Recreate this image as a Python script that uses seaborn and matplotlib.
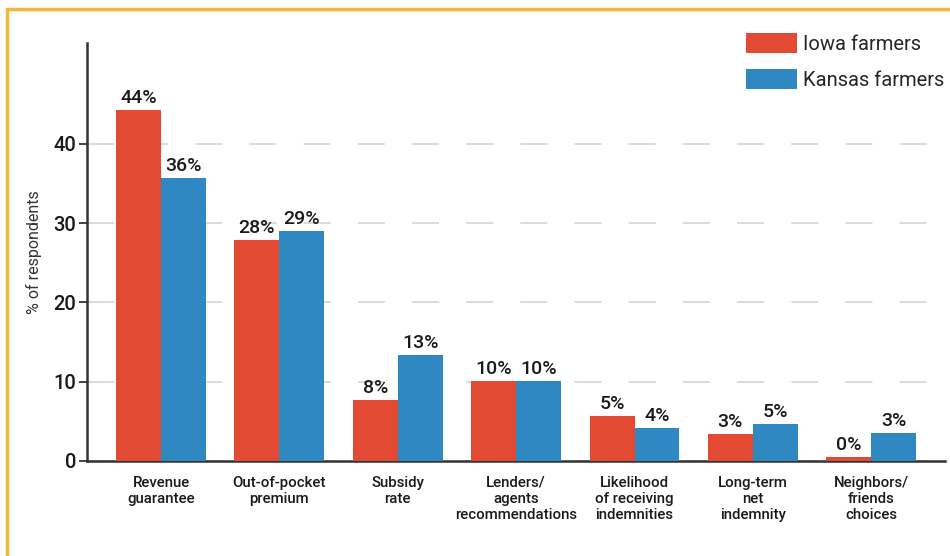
import pandas as pd
import matplotlib.pyplot as plt
import seaborn as sns
from matplotlib.lines import Line2D

# Data
factors = ["Revenue\nguarantee", "Out-of-pocket\npremium", "Subsidy\nrate",
           "Lenders/\nagents\nrecommendations", "Likelihood\nof receiving\nindemnities",
           "Long-term\nnet\nindemnity", "Neighbors/\nfriends\nchoices"]
iowa = [44.3, 27.9, 7.7, 10.1, 5.7, 3.4, 0.5]
kansas = [35.7, 29.0, 13.4, 10.1, 4.2, 4.7, 3.5]
iowa_labels = ["44%", "28%", "8%", "10%", "5%", "3%", "0%"]
kansas_labels = ["36%", "29%", "13%", "10%", "4%", "5%", "3%"]
groups = ["Iowa farmers", "Kansas farmers"]
colors = ["#E24A33", "#2F88C1"]

df = pd.DataFrame({
    "factor": factors * 2,
    "pct": iowa + kansas,
    "group": [groups[0]] * len(factors) + [groups[1]] * len(factors),
})

sns.set_style("white")
plt.rcParams['font.family'] = ['Roboto', 'DejaVu Sans']

fig = plt.figure(figsize=(9.5, 5.56), dpi=100)
ax = fig.add_axes([0.0916, 0.1709, 0.9034, 0.7518])

sns.barplot(data=df, x="factor", y="pct", hue="group", palette=colors,
            width=0.76, saturation=1, linewidth=0, ax=ax, zorder=3)

for cont, labs in zip(ax.containers, [iowa_labels, kansas_labels]):
    ax.bar_label(cont, labels=labs, padding=2, fontsize=14, color="#1a1a1a",
                 fontweight="medium")

ax.set_xlim(-0.625, 6.625)
ax.set_ylim(0, 52.7)
ax.set_yticks([0, 10, 20, 30, 40])
ax.yaxis.grid(True, linestyle=(0, (15, 15)), color="#d8d8d8", linewidth=1.3, zorder=0)
ax.set_axisbelow(True)

for s in ["top", "right"]:
    ax.spines[s].set_visible(False)
for s in ["left", "bottom"]:
    ax.spines[s].set_color("#333333")
    ax.spines[s].set_linewidth(1.8)

ax.tick_params(axis="y", left=True, length=6, width=1.3, color="#333333",
               labelsize=14.5, labelcolor="#1a1a1a", pad=2)
ax.tick_params(axis="x", bottom=False, labelsize=10.8, labelcolor="#1a1a1a", pad=7)
for t in ax.get_yticklabels() + ax.get_xticklabels():
    t.set_fontweight("medium")
ax.set_xlabel("")
ax.set_ylabel("% of respondents", fontsize=11.5, color="#333333", labelpad=8)

ax.legend(loc="upper right", bbox_to_anchor=(1.002, 0.955), bbox_transform=fig.transFigure,
          frameon=False, fontsize=14.5, handlelength=2.5, handleheight=1.15,
          handletextpad=0.3, labelspacing=0.75, borderaxespad=0)

# yellow frame on the top and left edges
fig.add_artist(Line2D([0.0074, 1.0], [0.984, 0.984], color="#F0B93A", linewidth=2.5,
                      transform=fig.transFigure))
fig.add_artist(Line2D([0.0074, 0.0074], [0.0, 0.984], color="#F0B93A", linewidth=2.5,
                      transform=fig.transFigure))

fig.savefig("out.png", dpi=100)
